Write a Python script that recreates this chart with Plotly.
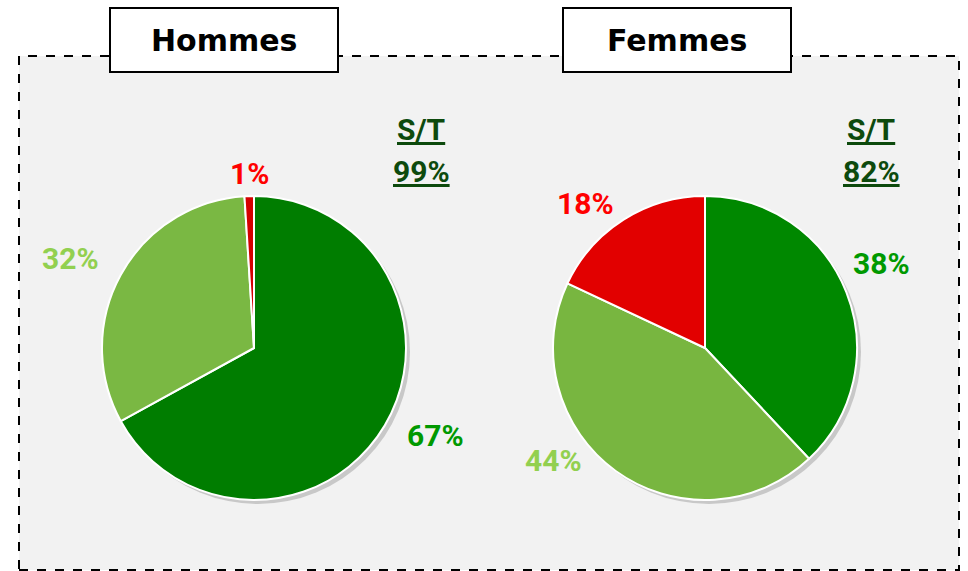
import plotly.graph_objects as go

W, H = 968, 571

groups = ["Hommes", "Femmes"]
slice_names = ["Très satisfait", "Satisfait", "Pas satisfait"]
hommes_values = [67, 32, 1]
femmes_values = [38, 44, 18]
hommes_colors = ["#007d00", "#7ab843", "#d40000"]
femmes_colors = ["#008800", "#78b640", "#e20000"]
label_colors = ["#009900", "#92d050", "#ff0000"]
st_values = ["99%", "82%"]


def px(x):
    return x / W


def py(y):
    return 1 - y / H


fig = go.Figure()

pie_boxes = [(102, 406, 196, 500), (553, 857, 196, 500)]
for vals, cols, box in [(hommes_values, hommes_colors, pie_boxes[0]),
                        (femmes_values, femmes_colors, pie_boxes[1])]:
    x0, x1, y0, y1 = box
    fig.add_trace(go.Pie(
        labels=slice_names, values=vals, sort=False, direction="clockwise",
        rotation=0, textinfo="none", hoverinfo="label+percent",
        marker=dict(colors=cols, line=dict(color="white", width=2)),
        domain=dict(x=[px(x0), px(x1)], y=[py(y1), py(y0)]),
        showlegend=False,
    ))

shapes = [
    dict(type="rect", xref="paper", yref="paper", layer="below",
         x0=px(19), x1=px(959), y0=py(570), y1=py(56),
         fillcolor="#f2f2f2", line=dict(color="black", width=2, dash="dash")),
]
for (x0, x1, y0, y1) in pie_boxes:
    shapes.append(dict(type="circle", xref="paper", yref="paper", layer="below",
                       x0=px(x0 + 4), x1=px(x1 + 4), y0=py(y1 + 4), y1=py(y0 + 4),
                       fillcolor="#c8c8c8", line=dict(width=0)))
title_boxes = [(110, 338), (563, 791)]
for (x0, x1) in title_boxes:
    shapes.append(dict(type="rect", xref="paper", yref="paper", layer="above",
                       x0=px(x0), x1=px(x1), y0=py(72), y1=py(8),
                       fillcolor="white", line=dict(color="black", width=2)))

annotations = []
for g, (x0, x1) in zip(groups, title_boxes):
    annotations.append(dict(text=f"<b>{g}</b>", x=px((x0 + x1) / 2), y=py(40), xref="paper", yref="paper",
                            showarrow=False, font=dict(family="DejaVu Sans", size=30, color="black"),
                            xanchor="center", yanchor="middle"))

label_pos = [
    [(435, 435), (70, 258), (249, 174)],
    [(881, 263), (553, 460), (585, 204)],
]
for vals, poss in zip([hommes_values, femmes_values], label_pos):
    for v, (x, y), c in zip(vals, poss, label_colors):
        annotations.append(dict(text=f"<b>{v}%</b>", x=px(x), y=py(y), xref="paper", yref="paper",
                                showarrow=False, font=dict(family="Roboto", size=30, color=c),
                                xanchor="center", yanchor="middle"))

for st, cx in zip(st_values, [421, 871]):
    annotations.append(dict(text="<b><u>S/T</u></b>", x=px(cx), y=py(129), xref="paper", yref="paper",
                            showarrow=False, font=dict(family="Roboto", size=30, color="#0d4a0d"),
                            xanchor="center", yanchor="middle"))
    annotations.append(dict(text=f"<b><u>{st}</u></b>", x=px(cx), y=py(171), xref="paper", yref="paper",
                            showarrow=False, font=dict(family="Roboto", size=30, color="#0d4a0d"),
                            xanchor="center", yanchor="middle"))

fig.update_layout(
    width=W, height=H, margin=dict(l=0, r=0, t=0, b=0),
    paper_bgcolor="white", plot_bgcolor="white",
    shapes=shapes, annotations=annotations,
)

fig.write_html("out.html", config={"displayModeBar": False},
               post_script="document.body.style.margin='0';document.body.style.overflow='hidden';")
